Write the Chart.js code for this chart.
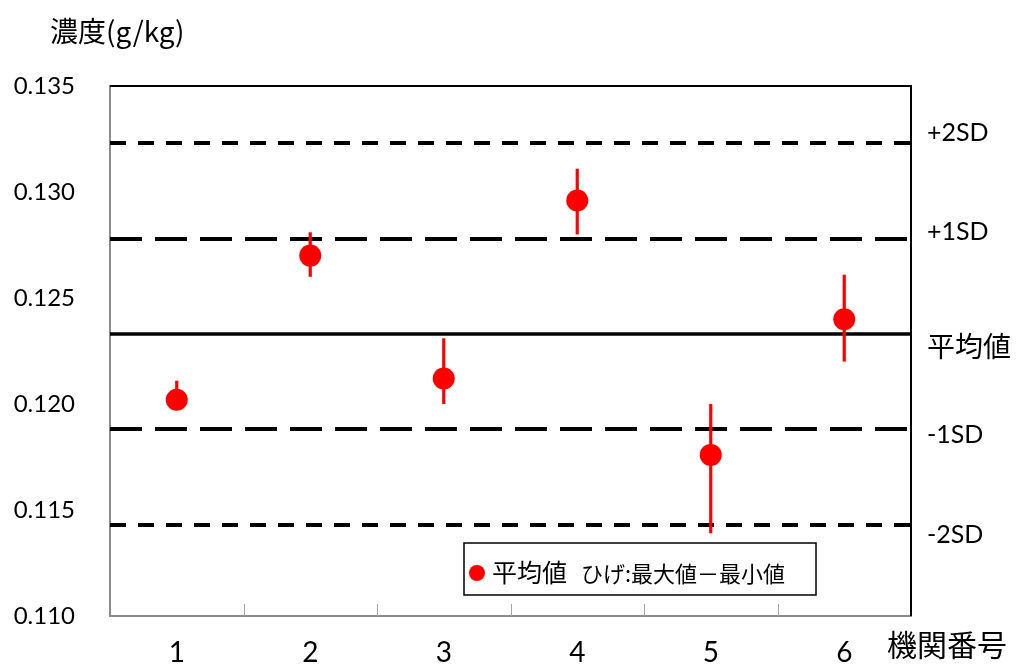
<!DOCTYPE html>
<html>
<head>
<meta charset="utf-8">
<script src="https://cdn.jsdelivr.net/npm/chart.js@4/dist/chart.umd.min.js"></script>
<style>
  html, body { margin: 0; padding: 0; background: #fff; }
  #wrap { width: 1016px; height: 668px; position: relative; }
</style>
</head>
<body>
<div id="wrap"><canvas id="c" width="1016" height="668"></canvas></div>
<script>
// Labs (機関番号) and their results
const labs = ['1', '2', '3', '4', '5', '6'];
const meanValues = [0.1202, 0.1270, 0.1212, 0.1296, 0.1176, 0.1240];
const maxValues  = [0.1211, 0.1281, 0.1231, 0.1311, 0.1200, 0.1261];
const minValues  = [0.1201, 0.1260, 0.1200, 0.1280, 0.1139, 0.1220];

// Reference lines: overall mean and ±1SD / ±2SD
const refNames  = ['+2SD', '+1SD', '平均値', '-1SD', '-2SD'];
const refValues = [0.1323, 0.1278, 0.1233, 0.1188, 0.1143];

// Y axis range and step
const yMin = 0.110, yMax = 0.135, yStep = 0.005;

const LATIN = 'Lato, "Noto Sans CJK JP", sans-serif';
const CJK = '"Noto Sans CJK JP", Lato, sans-serif';

// line style per reference line
const refStyle = {
  '+2SD': { dash: [16, 12], width: 4, lab: { font: '25px ' + LATIN, dy: -10 } },
  '+1SD': { dash: [32, 13], width: 4, lab: { font: '25px ' + LATIN, dy: -7 } },
  '平均値': { dash: [], width: 3.5, lab: { font: '28px ' + CJK, dy: 12 } },
  '-1SD': { dash: [32, 13], width: 4, lab: { font: '25px ' + LATIN, dy: 5 } },
  '-2SD': { dash: [16, 12], width: 4, lab: { font: '25px ' + LATIN, dy: 10 } }
};

const decor = {
  id: 'decor',
  beforeDatasetsDraw(chart) {
    const { ctx, chartArea: a, scales: { x, y } } = chart;
    ctx.save();
    // reference lines
    refValues.forEach((v, i) => {
      const st = refStyle[refNames[i]];
      const py = Math.round(y.getPixelForValue(v));
      ctx.beginPath();
      ctx.setLineDash(st.dash);
      ctx.lineWidth = st.width;
      ctx.strokeStyle = '#000';
      ctx.moveTo(a.left, py);
      ctx.lineTo(a.right, py);
      ctx.stroke();
    });
    ctx.setLineDash([]);
    // whiskers: max to min
    ctx.strokeStyle = '#ff0000';
    ctx.lineWidth = 3.2;
    labs.forEach((l, i) => {
      const px = x.getPixelForValue(i);
      ctx.beginPath();
      ctx.moveTo(px, y.getPixelForValue(maxValues[i]));
      ctx.lineTo(px, y.getPixelForValue(minValues[i]));
      ctx.stroke();
    });
    ctx.restore();
  },
  afterDraw(chart) {
    const { ctx, chartArea: a, scales: { x, y } } = chart;
    ctx.save();
    // small category-boundary ticks on the bottom axis
    ctx.strokeStyle = '#a6a6a6';
    ctx.lineWidth = 1;
    for (let i = 0; i < labs.length - 1; i++) {
      const bx = Math.round((x.getPixelForValue(i) + x.getPixelForValue(i + 1)) / 2) + 0.5;
      ctx.beginPath();
      ctx.moveTo(bx, a.bottom);
      ctx.lineTo(bx, a.bottom - 12);
      ctx.stroke();
    }
    // frame: top and right black
    ctx.strokeStyle = '#000';
    ctx.lineWidth = 2;
    ctx.beginPath();
    ctx.moveTo(a.left, a.top);
    ctx.lineTo(a.right, a.top);
    ctx.lineTo(a.right, a.bottom);
    ctx.stroke();
    // right-hand labels of the reference lines
    ctx.fillStyle = '#000';
    ctx.textAlign = 'left';
    ctx.textBaseline = 'middle';
    refValues.forEach((v, i) => {
      const st = refStyle[refNames[i]];
      ctx.font = st.lab.font;
      ctx.fillText(refNames[i], a.right + 16, y.getPixelForValue(v) + st.lab.dy);
    });
    // axis titles
    ctx.font = '28px ' + CJK;
    ctx.textBaseline = 'middle';
    ctx.fillText('濃度(g/kg)', 50, 31);
    ctx.font = '30px ' + CJK;
    ctx.fillText('機関番号', 887, 645);
    // legend box
    const lx = 464, ly = 543, lw = 352, lh = 52;
    ctx.fillStyle = '#fff';
    ctx.fillRect(lx, ly, lw, lh);
    ctx.strokeStyle = '#000';
    ctx.lineWidth = 1.5;
    ctx.strokeRect(lx, ly, lw, lh);
    ctx.fillStyle = '#ff0000';
    ctx.beginPath();
    ctx.arc(477, 573, 8, 0, Math.PI * 2);
    ctx.fill();
    ctx.fillStyle = '#000';
    ctx.font = '25px ' + CJK;
    ctx.fillText('平均値', 492, 572);
    ctx.font = '22px ' + CJK;
    ctx.fillText('ひげ:最大値－最小値', 581, 574);
    ctx.restore();
  }
};

new Chart(document.getElementById('c'), {
  type: 'line',
  data: {
    labels: labs,
    datasets: [{
      label: '平均値',
      data: meanValues,
      showLine: false,
      pointRadius: 11,
      pointHoverRadius: 11,
      pointBackgroundColor: '#ff0000',
      pointBorderColor: '#ff0000',
      pointBorderWidth: 0
    }]
  },
  options: {
    responsive: false,
    animation: false,
    events: [],
    layout: { padding: { top: 86, right: 105, left: 0, bottom: 0 } },
    plugins: { legend: { display: false }, tooltip: { enabled: false } },
    scales: {
      x: {
        type: 'category',
        offset: true,
        grid: { display: false, drawTicks: false },
        border: { display: true, color: '#8c8c8c', width: 2 },
        ticks: { color: '#000', font: { family: LATIN, size: 28 }, padding: 20 },
        afterFit(s) { s.height = 52; }
      },
      y: {
        min: yMin, max: yMax,
        grid: { display: false, drawTicks: false },
        border: { display: true, color: '#8c8c8c', width: 2 },
        ticks: {
          stepSize: yStep,
          color: '#000',
          font: { family: LATIN, size: 24 },
          padding: 35,
          callback: v => v.toFixed(3)
        },
        afterFit(s) { s.width = 110; }
      }
    }
  },
  plugins: [decor]
});
</script>
</body>
</html>
